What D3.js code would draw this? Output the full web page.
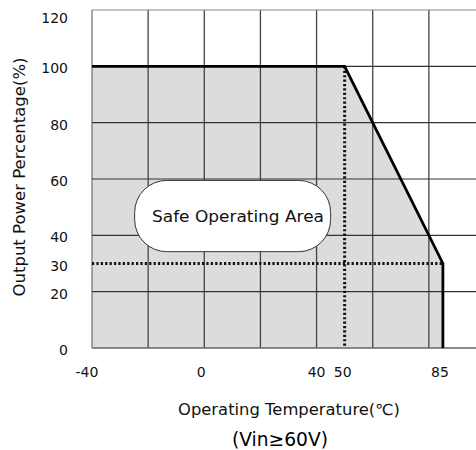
<!DOCTYPE html>
<html><head><meta charset="utf-8">
<script src="https://cdn.jsdelivr.net/npm/d3@7"></script>
<style>body{margin:0;background:#fff}svg{display:block}</style>
</head><body>
<script>
// Data
const xTicks = [-40, 0, 40, 50, 85];
const yTicks = [0, 20, 30, 40, 60, 80, 100, 120];
const xGrid = [-40, -20, 0, 20, 40, 60, 80];
const yGrid = [20, 40, 60, 80, 100, 120];
const curveTemp = [-40, 50, 85, 85];
const curvePower = [100, 100, 30, 0];
const deratingTemp = 50;
const deratingPower = 30;
const areaLabel = "Safe Operating Area";
const xTitle = "Operating Temperature(℃)";
const yTitle = "Output Power Percentage(%)";
const note = "(Vin≥60V)";

const W = 476, H = 450;
const font = "DejaVu Sans, sans-serif";
const svg = d3.select("body").append("svg").attr("width", W).attr("height", H);

const x = d3.scaleLinear().domain([-40, 100]).range([92, 485]);
const y = d3.scaleLinear().domain([0, 120]).range([348, 10]);

const pts = curveTemp.map((t, i) => [t, curvePower[i]]);

// fill
const poly = [[-40, 0]].concat(pts);
svg.append("path")
  .attr("d", d3.line().x(d => x(d[0])).y(d => y(d[1]))(poly) + "Z")
  .attr("fill", "#dcdcdc");

// grid
svg.selectAll(".vg").data(xGrid).join("line")
  .attr("x1", d => x(d)).attr("x2", d => x(d))
  .attr("y1", y(120)).attr("y2", y(0))
  .attr("stroke", d => d === -40 ? "#777" : "#444").attr("stroke-width", 1.3);
svg.selectAll(".hg").data(yGrid).join("line")
  .attr("x1", x(-40)).attr("x2", W)
  .attr("y1", d => y(d)).attr("y2", d => y(d))
  .attr("stroke", d => d === 120 ? "#888" : "#333").attr("stroke-width", 1.2);
svg.append("line").attr("x1", x(-40)).attr("x2", W)
  .attr("y1", y(0)).attr("y2", y(0)).attr("stroke", "#666").attr("stroke-width", 1.4);

// dotted lines
svg.append("line").attr("x1", x(deratingTemp)).attr("x2", x(deratingTemp))
  .attr("y1", y(100)).attr("y2", y(0))
  .attr("stroke", "#111").attr("stroke-width", 3).attr("stroke-dasharray", "2.2,2.2");
svg.append("line").attr("x1", x(-40)).attr("x2", x(85))
  .attr("y1", y(deratingPower)).attr("y2", y(deratingPower))
  .attr("stroke", "#111").attr("stroke-width", 3).attr("stroke-dasharray", "2.2,2.2");

// label box
const bx0 = x(-24.8), bx1 = x(45), by0 = y(59.5), by1 = y(34.2);
svg.append("rect").attr("x", bx0).attr("y", by0)
  .attr("width", bx1 - bx0).attr("height", by1 - by0)
  .attr("rx", 32).attr("ry", 32)
  .attr("fill", "#fff").attr("stroke", "#333").attr("stroke-width", 1);
svg.append("text").attr("x", 238).attr("y", y(47) + 6)
  .attr("text-anchor", "middle").attr("font-family", font).attr("font-size", 15.5)
  .attr("textLength", 172).attr("lengthAdjust", "spacingAndGlyphs")
  .attr("fill", "#111").text(areaLabel);

// curve
svg.append("path")
  .attr("d", d3.line().x(d => x(d[0])).y(d => y(d[1]))(pts))
  .attr("fill", "none").attr("stroke", "#000").attr("stroke-width", 2.8)
  .attr("stroke-linejoin", "miter");

// y ticks
svg.selectAll(".yt").data(yTicks).join("text")
  .attr("x", 68).attr("y", d => y(d) + (d === 120 ? 13 : 7))
  .attr("text-anchor", "end").attr("font-family", font).attr("font-size", 14)
  .attr("fill", "#111").text(d => d);

// x ticks
svg.selectAll(".xt").data(xTicks).join("text")
  .attr("x", d => x(d) - (d === -40 ? 5 : d === 0 ? 3 : d === 50 ? 2 : d === 85 ? 3 : 0))
  .attr("y", 377)
  .attr("text-anchor", "middle").attr("font-family", font).attr("font-size", 14)
  .attr("fill", "#111").text(d => d);

// titles
svg.append("text").attr("x", 289).attr("y", 415)
  .attr("text-anchor", "middle").attr("font-family", font).attr("font-size", 15)
  .attr("textLength", 222).attr("lengthAdjust", "spacingAndGlyphs")
  .attr("fill", "#111").text(xTitle);
svg.append("text").attr("transform", "translate(25,177) rotate(-90)")
  .attr("text-anchor", "middle").attr("font-family", font).attr("font-size", 15)
  .attr("textLength", 239).attr("lengthAdjust", "spacingAndGlyphs")
  .attr("fill", "#111").text(yTitle);
svg.append("text").attr("x", 280).attr("y", 446)
  .attr("text-anchor", "middle").attr("font-family", font).attr("font-size", 19)
  .attr("textLength", 96).attr("lengthAdjust", "spacingAndGlyphs")
  .attr("fill", "#000").text(note);
</script>
</body></html>
